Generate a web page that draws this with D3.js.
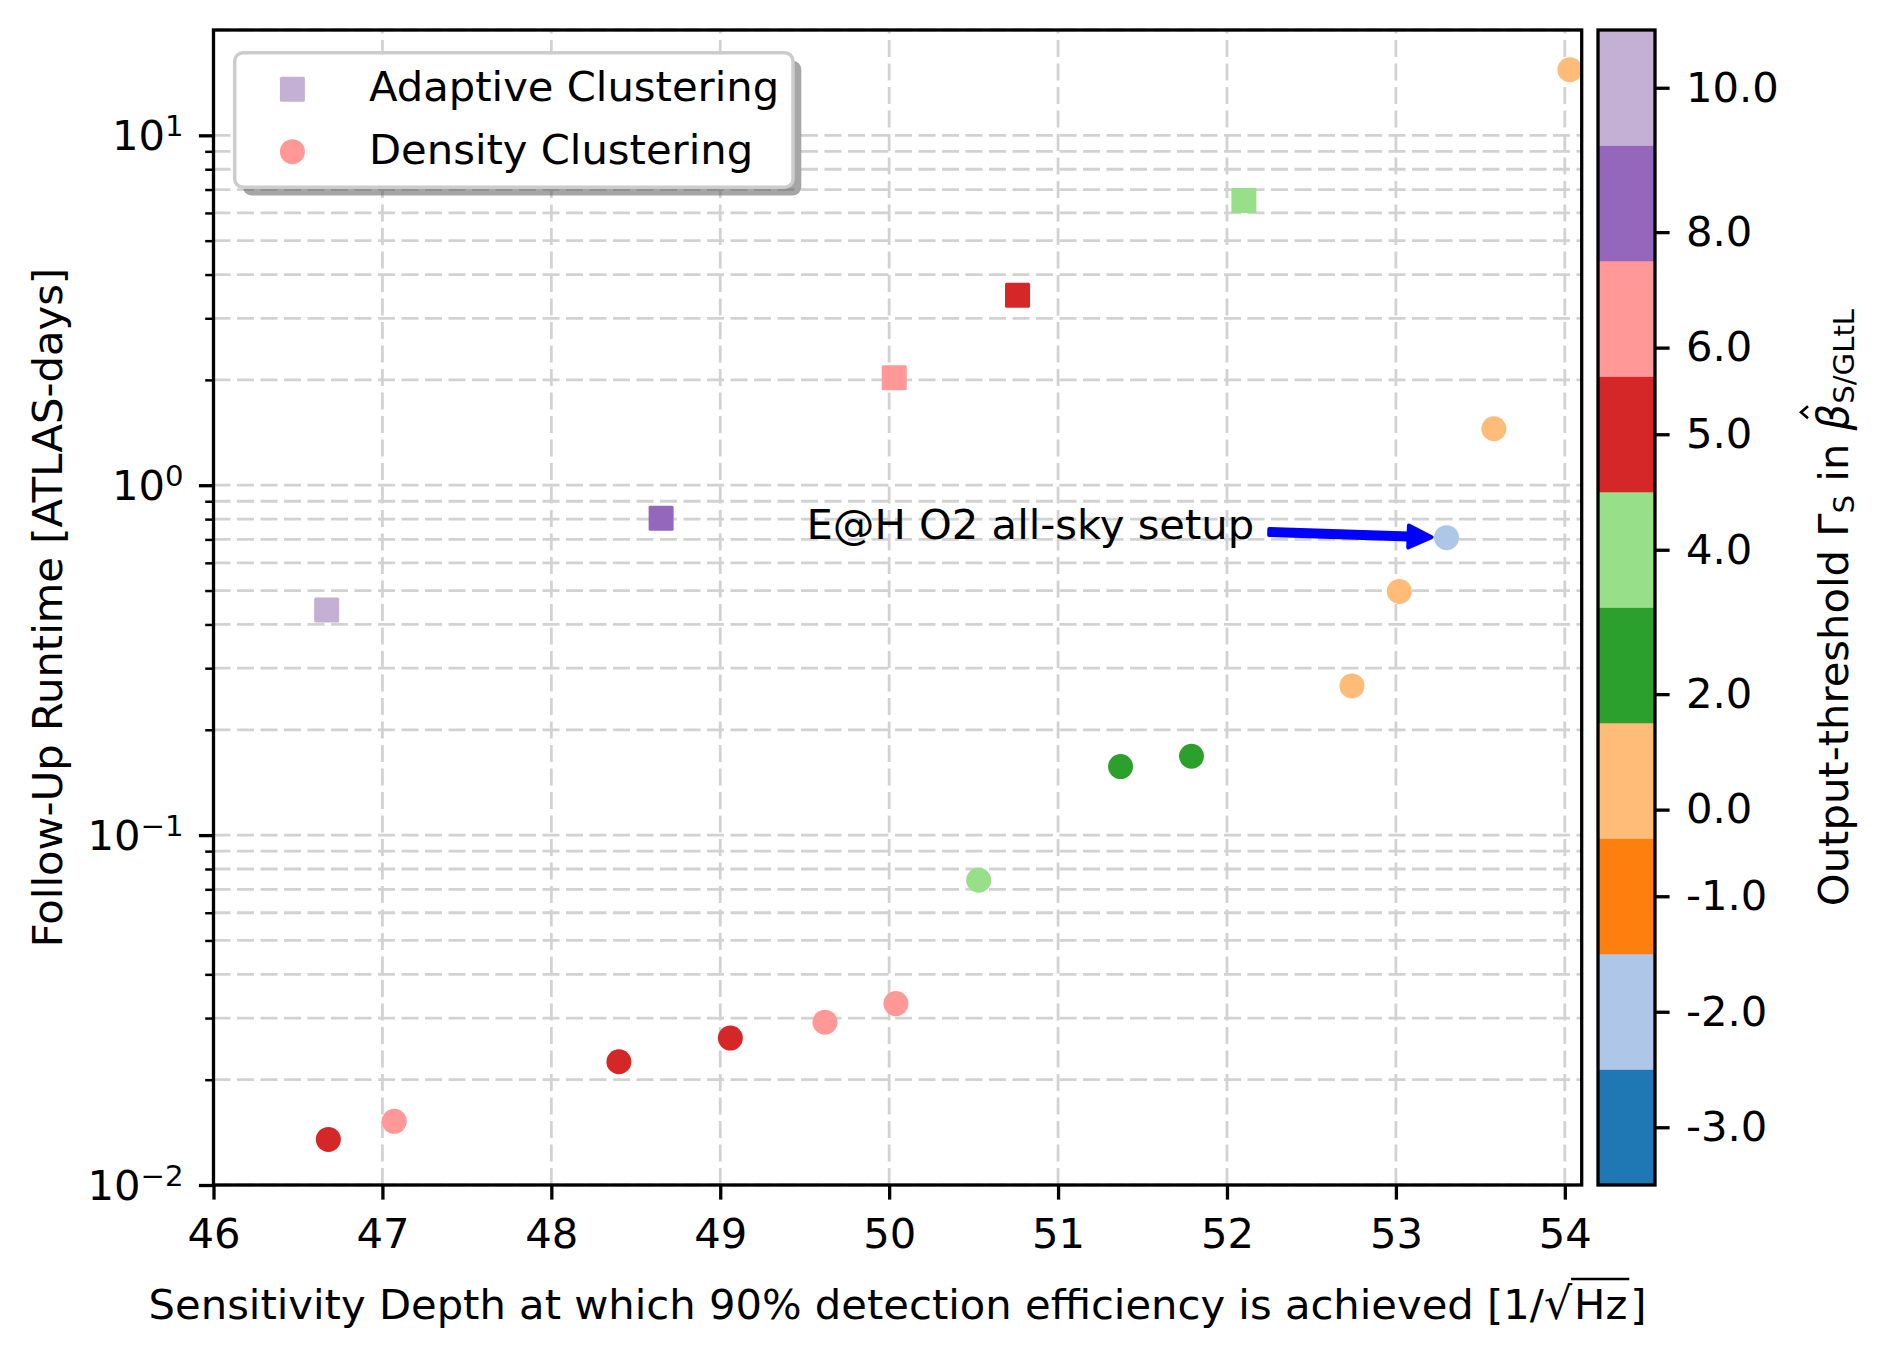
<!DOCTYPE html>
<html><head><meta charset="utf-8">
<script src="https://cdn.jsdelivr.net/npm/d3@7"></script>
<style>
body{margin:0;background:#fff}
text{font-family:"DejaVu Sans",sans-serif;fill:#000}
</style>
</head><body>
<svg id="c" width="1884" height="1361" xmlns="http://www.w3.org/2000/svg"></svg>
<script>
// ---------------- data ----------------
const adaptiveDepth   = [46.67, 48.65, 50.03, 50.76, 52.10];
const adaptiveRuntime = [0.44, 0.805, 2.03, 3.49, 6.51];
const adaptiveGamma   = [10, 8, 6, 5, 4];

const densityDepth   = [47.07, 49.62, 50.04, 46.68, 48.40, 49.06, 50.53, 51.37, 51.79, 52.74, 53.02, 53.58, 54.03, 53.30];
const densityRuntime = [0.0152, 0.0292, 0.0330, 0.0135, 0.0225, 0.0263, 0.0743, 0.157, 0.168, 0.267, 0.497, 1.45, 15.4, 0.708];
const densityGamma   = [6, 6, 6, 5, 5, 5, 4, 2, 2, 0, 0, 0, 0, -2];

const xTickValues = [46, 47, 48, 49, 50, 51, 52, 53, 54];
const yMajorTicks = [0.01, 0.1, 1, 10];
const gammaBounds = [-3.5, -2.5, -1.5, -0.5, 1.5, 3.5, 4.5, 5.5, 7.5, 9.5, 10.5];
const gammaTicks  = [-3, -2, -1, 0, 2, 4, 5, 6, 8, 10];
const gammaColors = ["#1f77b4","#aec7e8","#ff7f0e","#ffbb78","#2ca02c","#98df8a","#d62728","#ff9896","#9467bd","#c5b0d5"];
const seriesNames = ["Adaptive Clustering", "Density Clustering"];
const annotationText = "E@H O2 all-sky setup";
const annotationAt = [49.51, 0.70];      // text anchor (data coords)
const annotationTarget = [53.30, 0.708]; // annotated point

// ---------------- layout ----------------
const FS = 41.7;
const plot = {l: 213.5, r: 1581.7, t: 30, b: 1185};
const cb = {l: 1598, r: 1655, t: 30, b: 1185};
const LW = 3.3;

const svg = d3.select("#c");
const x = d3.scaleLinear().domain([46, 54.1]).range([plot.l, plot.r]);
const y = d3.scaleLog().domain([0.01, 20]).range([plot.b, plot.t]);
const color = d3.scaleThreshold().domain(gammaBounds.slice(1, -1)).range(gammaColors);
const cbScale = d3.scaleLinear().domain(gammaBounds)
  .range(gammaBounds.map((d, i) => cb.b - i * (cb.b - cb.t) / (gammaBounds.length - 1)));

svg.append("defs").append("clipPath").attr("id", "clip")
  .append("rect").attr("x", plot.l).attr("y", plot.t)
  .attr("width", plot.r - plot.l).attr("height", plot.b - plot.t);

// ---------------- grid ----------------
const grid = svg.append("g").attr("stroke", "#d2d2d2").attr("stroke-width", 2.8)
  .attr("stroke-dasharray", "17,6.5").attr("fill", "none");
grid.selectAll(".vg").data(xTickValues).join("line")
  .attr("x1", d => x(d)).attr("x2", d => x(d)).attr("y1", plot.b).attr("y2", plot.t);
grid.selectAll(".hg").data(y.ticks()).join("line")
  .attr("x1", plot.l).attr("x2", plot.r).attr("y1", d => y(d)).attr("y2", d => y(d));

// ---------------- points ----------------
const adaptive = adaptiveDepth.map((d, i) => ({x: d, y: adaptiveRuntime[i], g: adaptiveGamma[i]}));
const density = densityDepth.map((d, i) => ({x: d, y: densityRuntime[i], g: densityGamma[i]}));
const pts = svg.append("g").attr("clip-path", "url(#clip)");
const MS = 25;
pts.selectAll(".sq").data(adaptive).join("rect")
  .attr("x", d => x(d.x) - MS / 2).attr("y", d => y(d.y) - MS / 2)
  .attr("width", MS).attr("height", MS).attr("rx", 1.5).attr("fill", d => color(d.g));
pts.selectAll(".ci").data(density).join("circle")
  .attr("cx", d => x(d.x)).attr("cy", d => y(d.y)).attr("r", MS / 2).attr("fill", d => color(d.g));

// ---------------- axes ----------------
function styleAxis(g) {
  g.select(".domain").remove();
  g.selectAll("line").attr("stroke", "#000");
  g.selectAll("text").attr("font-size", FS).attr("font-family", "DejaVu Sans").attr("fill", "#000");
}
const xAxis = svg.append("g").attr("transform", `translate(0,${plot.b})`)
  .call(d3.axisBottom(x).tickValues(xTickValues).tickSize(14.6).tickPadding(19).tickFormat(d3.format("d")));
styleAxis(xAxis);
xAxis.selectAll("line").attr("stroke-width", LW);

const minorY = y.ticks().filter(d => !yMajorTicks.includes(d) && d < 20);
const yMinor = svg.append("g").attr("transform", `translate(${plot.l},0)`)
  .call(d3.axisLeft(y).tickValues(minorY).tickSize(8.3).tickFormat(""));
styleAxis(yMinor);
yMinor.selectAll("line").attr("stroke-width", 2.5);
const yMajor = svg.append("g").attr("transform", `translate(${plot.l},0)`)
  .call(d3.axisLeft(y).tickValues(yMajorTicks).tickSize(14.6).tickFormat(""));
styleAxis(yMajor);
yMajor.selectAll("line").attr("stroke-width", LW);

const yLab = svg.append("g").selectAll("text").data(yMajorTicks).join("text")
  .attr("x", plot.l - 30).attr("y", d => y(d) + 15).attr("text-anchor", "end").attr("font-size", FS);
yLab.append("tspan").text("10");
yLab.append("tspan").attr("dy", -14).attr("font-size", FS * 0.7)
  .text(d => { const e = Math.round(Math.log10(d)); return (e < 0 ? "\u2212" : "") + Math.abs(e); });

// spines
svg.append("rect").attr("x", plot.l).attr("y", plot.t).attr("width", plot.r - plot.l)
  .attr("height", plot.b - plot.t).attr("fill", "none").attr("stroke", "#000").attr("stroke-width", LW);

// axis labels
const xl = svg.append("text").attr("id", "xlab").attr("x", (plot.l + plot.r) / 2).attr("y", 1319)
  .attr("text-anchor", "middle").attr("font-size", FS);
xl.append("tspan").text("Sensitivity Depth at which 90% detection efficiency is achieved [1/");
xl.append("tspan").attr("font-size", FS * 1.06).text("\u221A");
xl.append("tspan").attr("dx", 2).text("Hz");
xl.append("tspan").attr("dx", 3).text("]");

svg.append("text").attr("transform", `translate(62,${(plot.t + plot.b) / 2}) rotate(-90)`)
  .attr("text-anchor", "middle").attr("font-size", FS).text("Follow-Up Runtime [ATLAS-days]");

// ---------------- colorbar ----------------
const cbg = svg.append("g");
cbg.selectAll("rect").data(d3.range(gammaColors.length)).join("rect")
  .attr("x", cb.l).attr("width", cb.r - cb.l)
  .attr("y", i => cbScale(gammaBounds[i + 1]))
  .attr("height", i => cbScale(gammaBounds[i]) - cbScale(gammaBounds[i + 1]))
  .attr("fill", i => gammaColors[i]).attr("stroke", i => gammaColors[i]).attr("stroke-width", 0.5);
svg.append("rect").attr("x", cb.l).attr("y", cb.t).attr("width", cb.r - cb.l).attr("height", cb.b - cb.t)
  .attr("fill", "none").attr("stroke", "#000").attr("stroke-width", LW);
const cbAxis = svg.append("g").attr("transform", `translate(${cb.r},0)`)
  .call(d3.axisRight(cbScale).tickValues(gammaTicks).tickSize(14.6).tickPadding(16.4)
    .tickFormat(v => (v < 0 ? "-" : "") + Math.abs(v).toFixed(1)));
styleAxis(cbAxis);
cbAxis.selectAll("line").attr("stroke-width", LW);

const clg = svg.append("g").attr("transform", `translate(1848,${(cb.t + cb.b) / 2}) rotate(-90)`);
const cl = clg.append("text").attr("text-anchor", "middle").attr("font-size", FS);
cl.append("tspan").text("Output-threshold \u0393");
cl.append("tspan").attr("dy", 6).attr("font-size", FS * 0.7).text("S");
cl.append("tspan").attr("dy", -6).text(" in ");
cl.append("tspan").attr("font-style", "italic").text("\u03B2");
cl.append("tspan").attr("dy", 6).attr("font-size", FS * 0.7).text("S/GLtL");
// hat over beta
{
  const n = cl.node();
  const iB = n.textContent.indexOf("\u03B2");
  const b0 = n.getStartPositionOfChar(iB).x, b1 = n.getEndPositionOfChar(iB).x;
  const hc = b0 + 0.68 * (b1 - b0);
  clg.append("path").attr("d", `M${hc - 6},-40 L${hc},-47 L${hc + 6},-40`)
    .attr("fill", "none").attr("stroke", "#000").attr("stroke-width", 2.6).attr("stroke-linejoin", "miter");
}

// ---------------- legend ----------------
const lg = svg.append("g");
const lb = {x: 234.7, y: 52.7, w: 558.3, h: 134.5};
lg.append("rect").attr("x", lb.x + 8.3).attr("y", lb.y + 8.3).attr("width", lb.w).attr("height", lb.h)
  .attr("rx", 8.3).attr("fill", "#4d4d4d").attr("fill-opacity", 0.5);
lg.append("rect").attr("x", lb.x).attr("y", lb.y).attr("width", lb.w).attr("height", lb.h)
  .attr("rx", 8.3).attr("fill", "#fff").attr("stroke", "#cccccc").attr("stroke-width", 3.5);
lg.append("rect").attr("x", 292.4 - MS / 2).attr("y", 89.3 - MS / 2).attr("width", MS).attr("height", MS)
  .attr("rx", 1.5).attr("fill", color(adaptive[0].g));
lg.append("circle").attr("cx", 292.4).attr("cy", 151.7).attr("r", MS / 2).attr("fill", color(density[0].g));
lg.selectAll(".lt").data(seriesNames).join("text").attr("x", 369).attr("y", (d, i) => [100.8, 164][i])
  .attr("font-size", FS).text(d => d);

// ---------------- annotation ----------------
const at = svg.append("text").attr("x", x(annotationAt[0])).attr("y", y(annotationAt[1]))
  .attr("font-size", FS).text(annotationText);
const textEnd = x(annotationAt[0]) + at.node().getComputedTextLength();
const tx = x(annotationTarget[0]), ty = y(annotationTarget[1]);
const sx = textEnd + 15, sy = y(annotationAt[1]) - 7.5;
const ang = Math.atan2(ty - sy, tx - sx);
const len = Math.hypot(tx - sx, ty - sy) - 15;
const sw = 3, hw = 11, hl = 23;
const arrowPts = [[0, -sw], [len - hl, -sw], [len - hl, -hw], [len, 0], [len - hl, hw], [len - hl, sw], [0, sw]];
svg.append("path").attr("transform", `translate(${sx},${sy}) rotate(${ang * 180 / Math.PI})`)
  .attr("d", d3.line()(arrowPts) + "Z").attr("fill", "#0000ff").attr("stroke", "#0000ff")
  .attr("stroke-width", 4).attr("stroke-linejoin", "round");

// sqrt overline
const xn = xl.node();
const full = xn.textContent;
const iS = full.indexOf("\u221A"), iH = full.indexOf("Hz");
const sEnd = xn.getEndPositionOfChar(iS).x;
const hEnd = xn.getEndPositionOfChar(iH + 1).x;
svg.append("line").attr("x1", sEnd - 1).attr("x2", hEnd + 2).attr("y1", 1279).attr("y2", 1279)
  .attr("stroke", "#000").attr("stroke-width", 2.6);
</script>
</body></html>
